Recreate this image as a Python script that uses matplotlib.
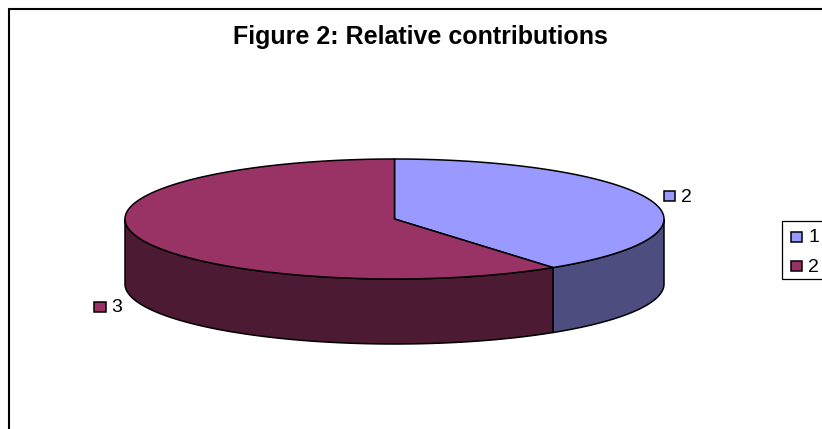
import numpy as np
import matplotlib
matplotlib.use('Agg')
import matplotlib.pyplot as plt
from matplotlib.patches import Polygon, Rectangle

title = 'Figure 2: Relative contributions'
categories = ['1', '2']
values = [2, 3]
top_colors = ['#9999FF', '#993366']
side_colors = ['#4D4D80', '#4D1A33']

plt.rcParams['font.family'] = ['Liberation Sans', 'DejaVu Sans']

# pixel coordinates of the picture, y pointing down
W, H = 822, 429
cx, cy, rx, ry, depth = 394.5, 219, 269.5, 60, 65


def rim(t, drop=0):
    return np.column_stack([cx + rx*np.sin(t), cy - ry*np.cos(t) + drop])


fig = plt.figure(figsize=(W/100, H/100), dpi=100)
ax = fig.add_axes([0, 0, 1, 1])
ax.set_xlim(0, W)
ax.set_ylim(H, 0)
ax.axis('off')

# chart frame runs off the right and bottom of the image
ax.add_patch(Rectangle((9, 9), W, H, fc='white', ec='black', lw=1.5))

fractions = np.array(values) / sum(values)
edges = np.concatenate([[0], np.cumsum(fractions)]) * 2*np.pi

# side walls first, only the front half of the rim shows
for i in range(len(values)):
    lo, hi = max(edges[i], np.pi/2), min(edges[i+1], 3*np.pi/2)
    if lo >= hi:
        continue
    t = np.linspace(lo, hi, 150)
    wall = np.vstack([rim(t), rim(t[::-1], depth)])
    ax.add_patch(Polygon(wall, fc=side_colors[i], ec='black', lw=1.1))

for i in range(len(values)):
    t = np.linspace(edges[i], edges[i+1], 300)
    top = np.vstack([[[cx, cy]], rim(t)])
    ax.add_patch(Polygon(top, fc=top_colors[i], ec='black', lw=1.1))

ax.text(420.5, 37, title, ha='center', va='center', fontsize=18,
        fontweight='bold', color='black')


def swatch(x, y, color):
    ax.add_patch(Rectangle((x, y), 11.5, 9.5, fc=color, ec='black', lw=1.1))


# data labels show the values
swatch(663.5, 191, top_colors[0])
ax.text(681, 197, str(values[0]), ha='left', va='center', fontsize=14)
swatch(94, 302, top_colors[1])
ax.text(111, 308, str(values[1]), ha='left', va='center', fontsize=14)

# legend box is cut by the right edge of the image
ax.add_patch(Rectangle((782, 221), 60, 58, fc='white', ec='black', lw=0.9))
for cat, color, y in zip(categories, top_colors, [237, 266]):
    swatch(790.5, y-5, color)
    ax.text(808, y+1, cat, ha='left', va='center', fontsize=14)

fig.savefig('out.png', dpi=100)
